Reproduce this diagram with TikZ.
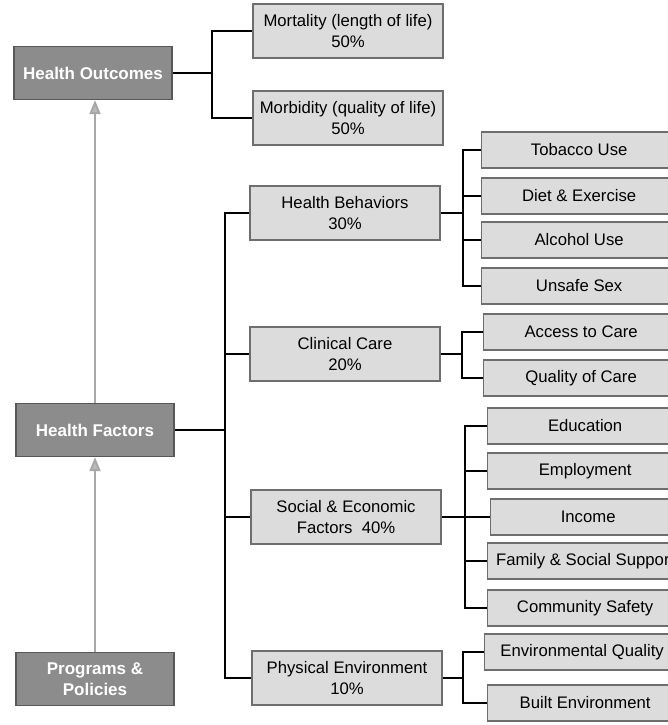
\documentclass[tikz,border=0pt]{standalone}
\usepackage{fontspec}
\setmainfont{Liberation Sans}
\usetikzlibrary{shapes}
\usetikzlibrary{arrows.meta}
\definecolor{boxdark}{HTML}{8C8C8C}
\definecolor{boxlight}{HTML}{DCDCDC}
\definecolor{edgegray}{HTML}{6E6E6E}
\definecolor{arrowgray}{HTML}{A8A8A8}
\tikzset{
	box/.style = {align=center, inner sep=0pt, text centered,
		font=\fontsize{16.7}{21}\selectfont, draw=edgegray, line width=1.3pt},
	box_d/.style = {box, fill=boxdark, text=white, draw=edgegray!80!black,
		font=\fontsize{17}{21}\selectfont\bfseries,
		minimum width=158pt, minimum height=53pt},% bloc sombre, a gauche
	box_m/.style = {box, fill=boxlight,
		minimum width=190pt, minimum height=54pt},% bloc du milieu
	box_l/.style = {box, fill=boxlight, anchor=west,
		minimum width=195pt, minimum height=36pt},% feuille, a droite
	link/.style = {draw=black, line width=1.6pt},
	lift/.style = {draw=arrowgray, line width=2pt,
		-{Triangle[width=11pt,length=14pt,fill=arrowgray!80]}}
}
\begin{document}
\begin{tikzpicture}[x=1pt,y=-1pt]
	\useasboundingbox (0,0) rectangle (668,725);
	\clip (0,0) rectangle (668,725);
	% colonne de gauche
	\node [box_d] (ho) at (93,73) {Health Outcomes};
	\node [box_d] (hf) at (95,430) {Health Factors};
	\node [box_d] (pp) at (95,679) {Programs \&\\Policies};
	\draw [lift] (pp.north) -- (hf.south);
	\draw [lift] (hf.north) -- (hf.north |- ho.south);
	% resultats
	\node [box_m] (mort) at (348,31) {Mortality (length of life)\\50\%};
	\node [box_m] (morb) at (348,118) {Morbidity (quality of life)\\50\%};
	\coordinate (hoj) at (212,73);
	\draw [link] (ho.east) -- (hoj) |- (mort.west);
	\draw [link] (hoj) |- (morb.west);
	% facteurs
	\node [box_m] (hb) at (345,213) {Health Behaviors\\30\%};
	\node [box_m] (cc) at (345,354) {Clinical Care\\20\%};
	\node [box_m] (se) at (346,517) {Social \& Economic\\Factors~~40\%};
	\node [box_m] (pe) at (347,678) {Physical Environment\\10\%};
	\coordinate (hfj) at (225,430);
	\draw [link] (hf.east) -- (hfj);
	\foreach \n in {hb,cc,se,pe}
		\draw [link] (hfj) |- (\n.west);
	% feuilles
	\node [box_l] (tob) at (481,150) {Tobacco Use};
	\node [box_l] (diet) at (481,196) {Diet \& Exercise};
	\node [box_l] (alc) at (481,240) {Alcohol Use};
	\node [box_l] (sex) at (481,286) {Unsafe Sex};
	\node [box_l] (acc) at (483,332) {Access to Care};
	\node [box_l] (qual) at (483,378) {Quality of Care};
	\node [box_l] (edu) at (487,426) {Education};
	\node [box_l] (emp) at (487,471) {Employment};
	\node [box_l] (inc) at (490,517) {Income};
	\node [box_l] (fam) at (487,561) {Family \& Social Support};
	\node [box_l] (saf) at (487,608) {Community Safety};
	\node [box_l] (env) at (484,652) {Environmental Quality};
	\node [box_l] (blt) at (487,703) {Built Environment};
	\coordinate (hbj) at (463,213);
	\coordinate (ccj) at (462,354);
	\coordinate (sej) at (465,517);
	\coordinate (pej) at (463,678);
	\draw [link] (hb.east) -- (hbj);
	\foreach \n in {tob,diet,alc,sex}
		\draw [link] (hbj) |- (\n.west);
	\draw [link] (cc.east) -- (ccj);
	\foreach \n in {acc,qual}
		\draw [link] (ccj) |- (\n.west);
	\draw [link] (se.east) -- (sej);
	\foreach \n in {edu,emp,inc,fam,saf}
		\draw [link] (sej) |- (\n.west);
	\draw [link] (pe.east) -- (pej);
	\foreach \n in {env,blt}
		\draw [link] (pej) |- (\n.west);
\end{tikzpicture}
\end{document}
